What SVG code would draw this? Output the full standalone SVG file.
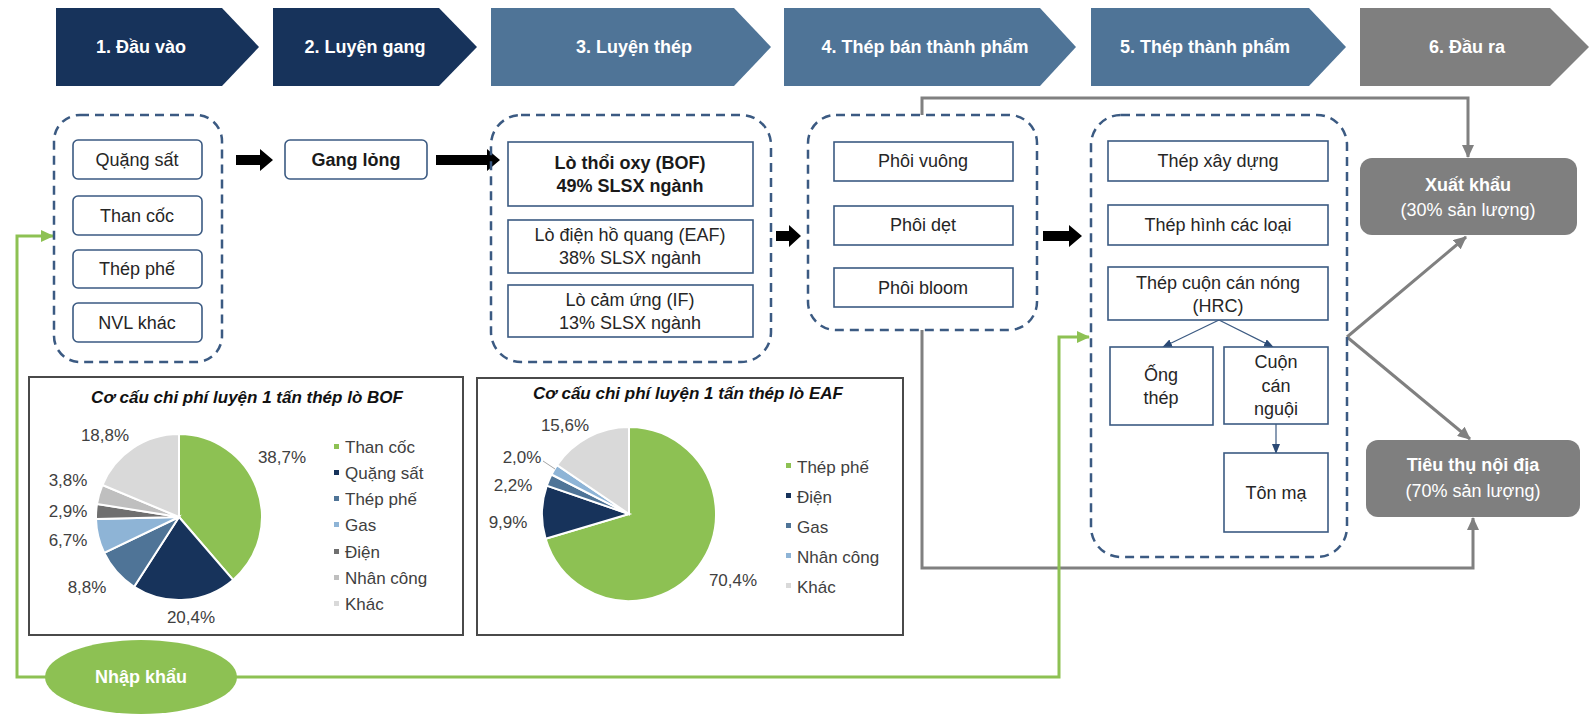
<svg xmlns="http://www.w3.org/2000/svg" width="1590" height="714" viewBox="0 0 1590 714">
<defs>
<style>
text{font-family:"Liberation Sans",Arial,sans-serif;}
.hdr{font-size:18px;font-weight:bold;fill:#fff;text-anchor:middle;}
.navy{fill:#17335B;}
.steel{fill:#4F7497;}
.grayf{fill:#7F7F7F;}
.box{fill:#fff;stroke:#3B5A82;stroke-width:1.6;}
.dash{fill:none;stroke:#3B5A82;stroke-width:2.5;stroke-dasharray:9 6;}
.t{font-size:18px;fill:#262626;text-anchor:middle;}
.tb{font-size:18px;font-weight:bold;fill:#1a1a1a;text-anchor:middle;}
.w{font-size:18px;fill:#fff;text-anchor:middle;}
.wb{font-size:18px;font-weight:bold;fill:#fff;text-anchor:middle;}
.chart{fill:#fff;stroke:#4a4a4a;stroke-width:2;}
.ct{font-size:17px;font-weight:bold;font-style:italic;fill:#111;text-anchor:middle;}
.pl{font-size:17px;fill:#404040;text-anchor:middle;}
.lg{font-size:17px;fill:#404040;}
.gray{fill:none;stroke:#808080;stroke-width:3;}
.green{fill:none;stroke:#8DC153;stroke-width:3;}
.thin{fill:none;stroke:#3B5A82;stroke-width:1.2;}
.slice{stroke:#fff;stroke-width:2;}
.blk{fill:#000;}
</style>
<marker id="ag" markerUnits="userSpaceOnUse" markerWidth="14" markerHeight="12" refX="12" refY="6" orient="auto"><path d="M0,0 L13,6 L0,12 Z" fill="#808080"/></marker>
<marker id="agr" markerUnits="userSpaceOnUse" markerWidth="14" markerHeight="12" refX="12" refY="6" orient="auto"><path d="M0,0 L13,6 L0,12 Z" fill="#8DC153"/></marker>
<marker id="an" markerUnits="userSpaceOnUse" markerWidth="10" markerHeight="8" refX="9" refY="4" orient="auto"><path d="M0,0 L10,4 L0,8 Z" fill="#2B4A75"/></marker>
</defs>
<rect width="1590" height="714" fill="#fff"/>

<g id="headers">
<g id="h1"><polygon class="navy" points="56,8 222,8 259,47 222,86 56,86"/><text class="hdr" x="141" y="53">1. Đầu vào</text></g>
<g id="h2"><polygon class="navy" points="273,8 439,8 477,47 439,86 273,86"/><text class="hdr" x="365" y="53">2. Luyện gang</text></g>
<g id="h3"><polygon class="steel" points="491,8 734,8 771,47 734,86 491,86"/><text class="hdr" x="634" y="53">3. Luyện thép</text></g>
<g id="h4"><polygon class="steel" points="784,8 1040,8 1076,47 1040,86 784,86"/><text class="hdr" x="925" y="53">4. Thép bán thành phẩm</text></g>
<g id="h5"><polygon class="steel" points="1091,8 1309,8 1346,47 1309,86 1091,86"/><text class="hdr" x="1205" y="53">5. Thép thành phẩm</text></g>
<g id="h6"><polygon class="grayf" points="1360,8 1550,8 1589,47 1550,86 1360,86"/><text class="hdr" x="1467" y="53">6. Đầu ra</text></g>
</g>

<g id="connectors">
<polygon class="blk" points="236,155 260,155 260,149 273,160 260,171 260,165 236,165"/>
<polygon class="blk" points="436,155 487,155 487,149 500,160 487,171 487,165 436,165"/>
<polygon class="blk" points="776,231 789,231 789,225 801,236 789,247 789,241 776,241"/>
<polygon class="blk" points="1043,231 1069,231 1069,225 1082,236 1069,247 1069,241 1043,241"/>
<polyline class="gray" points="922,115 922,98 1468,98 1468,157" marker-end="url(#ag)"/>
<polyline class="gray" points="922,330 922,568 1473,568 1473,518" marker-end="url(#ag)"/>
<line class="gray" x1="1347" y1="337" x2="1466" y2="237" marker-end="url(#ag)"/>
<line class="gray" x1="1347" y1="337" x2="1470" y2="439" marker-end="url(#ag)"/>
<polyline class="green" points="46,677 17,677 17,236 53,236" marker-end="url(#agr)"/>
<polyline class="green" points="236,677 1059,677 1059,337 1089,337" marker-end="url(#agr)"/>
<line class="thin" x1="1219" y1="320" x2="1163" y2="347" marker-end="url(#an)"/>
<line class="thin" x1="1219" y1="320" x2="1273" y2="347" marker-end="url(#an)"/>
<line class="thin" x1="1276" y1="424" x2="1276" y2="453" marker-end="url(#an)"/>
</g>

<g id="g1">
<rect class="dash" x="54" y="115" width="168" height="247" rx="26"/>
<rect class="box" x="73" y="140" width="129" height="39" rx="5"/><text class="t" x="137" y="166">Quặng sất</text>
<rect class="box" x="73" y="196" width="129" height="39" rx="5"/><text class="t" x="137" y="222">Than cốc</text>
<rect class="box" x="73" y="250" width="129" height="38" rx="5"/><text class="t" x="137" y="275">Thép phế</text>
<rect class="box" x="73" y="303" width="129" height="39" rx="5"/><text class="t" x="137" y="329">NVL khác</text>
</g>

<g id="g2">
<rect class="box" x="285" y="140" width="142" height="39" rx="5"/><text class="tb" x="356" y="166">Gang lỏng</text>
</g>

<g id="g3">
<rect class="dash" x="491" y="115" width="280" height="247" rx="30"/>
<rect class="box" x="508" y="142" width="245" height="64"/><text class="tb" x="630" y="169">Lò thổi oxy (BOF)</text><text class="tb" x="630" y="192">49% SLSX ngành</text>
<rect class="box" x="508" y="220" width="245" height="53"/><text class="t" x="630" y="241">Lò điện hồ quang (EAF)</text><text class="t" x="630" y="264">38% SLSX ngành</text>
<rect class="box" x="508" y="285" width="245" height="52"/><text class="t" x="630" y="306">Lò cảm ứng (IF)</text><text class="t" x="630" y="329">13% SLSX ngành</text>
</g>

<g id="g4">
<rect class="dash" x="808" y="115" width="229" height="215" rx="28"/>
<rect class="box" x="834" y="142" width="179" height="39"/><text class="t" x="923" y="167">Phôi vuông</text>
<rect class="box" x="834" y="206" width="179" height="39"/><text class="t" x="923" y="231">Phôi dẹt</text>
<rect class="box" x="834" y="268" width="179" height="39"/><text class="t" x="923" y="294">Phôi bloom</text>
</g>

<g id="g5">
<rect class="dash" x="1091" y="115" width="256" height="442" rx="30"/>
<rect class="box" x="1108" y="141" width="220" height="40"/><text class="t" x="1218" y="167">Thép xây dựng</text>
<rect class="box" x="1108" y="205" width="220" height="40"/><text class="t" x="1218" y="231">Thép hình các loại</text>
<rect class="box" x="1108" y="267" width="220" height="53"/><text class="t" x="1218" y="289">Thép cuộn cán nóng</text><text class="t" x="1218" y="312">(HRC)</text>
<rect class="box" x="1110" y="347" width="103" height="78"/><text class="t" x="1161" y="381">Ống</text><text class="t" x="1161" y="404">thép</text>
<rect class="box" x="1224" y="347" width="104" height="77"/><text class="t" x="1276" y="368">Cuộn</text><text class="t" x="1276" y="392">cán</text><text class="t" x="1276" y="415">nguội</text>
<rect class="box" x="1224" y="453" width="104" height="79"/><text class="t" x="1276" y="499">Tôn mạ</text>
</g>

<g id="out1">
<rect class="grayf" x="1360" y="158" width="217" height="77" rx="12"/>
<text class="wb" x="1468" y="191">Xuất khẩu</text><text class="w" x="1468" y="216">(30% sản lượng)</text>
</g>
<g id="out2">
<rect class="grayf" x="1366" y="440" width="214" height="77" rx="12"/>
<text class="wb" x="1473" y="471">Tiêu thụ nội địa</text><text class="w" x="1473" y="497">(70% sản lượng)</text>
</g>

<g id="import">
<ellipse cx="141" cy="677" rx="96" ry="37" fill="#8DC153"/>
<text class="wb" x="141" y="683">Nhập khẩu</text>
</g>

<g id="chartBOF">
<rect class="chart" x="29" y="377" width="434" height="258"/>
<text class="ct" x="247" y="403">Cơ cấu chi phí luyện 1 tấn thép lò BOF</text>
<path class="slice" fill="#8DC153" d="M179,517 L179,434 A83,83 0 0 1 233.1,579.9 Z"/>
<path class="slice" fill="#17335B" d="M179,517 L233.1,579.9 A83,83 0 0 1 134.1,586.8 Z"/>
<path class="slice" fill="#4F7497" d="M179,517 L134.1,586.8 A83,83 0 0 1 104.1,552.8 Z"/>
<path class="slice" fill="#8EB4D6" d="M179,517 L104.1,552.8 A83,83 0 0 1 96,519.1 Z"/>
<path class="slice" fill="#6F6F6F" d="M179,517 L96,519.1 A83,83 0 0 1 97,504 Z"/>
<path class="slice" fill="#BFBFBF" d="M179,517 L97,504 A83,83 0 0 1 102.4,485 Z"/>
<path class="slice" fill="#D9D9D9" d="M179,517 L102.4,485 A83,83 0 0 1 179,434 Z"/>
<text class="pl" x="282" y="463">38,7%</text>
<text class="pl" x="191" y="623">20,4%</text>
<text class="pl" x="87" y="593">8,8%</text>
<text class="pl" x="68" y="546">6,7%</text>
<text class="pl" x="68" y="517">2,9%</text>
<text class="pl" x="68" y="486">3,8%</text>
<text class="pl" x="105" y="441">18,8%</text>
<rect x="334" y="444" width="5" height="5" fill="#8DC153"/><text class="lg" x="345" y="453">Than cốc</text>
<rect x="334" y="470" width="5" height="5" fill="#17335B"/><text class="lg" x="345" y="479">Quặng sất</text>
<rect x="334" y="496" width="5" height="5" fill="#4F7497"/><text class="lg" x="345" y="505">Thép phế</text>
<rect x="334" y="522" width="5" height="5" fill="#8EB4D6"/><text class="lg" x="345" y="531">Gas</text>
<rect x="334" y="549" width="5" height="5" fill="#6F6F6F"/><text class="lg" x="345" y="558">Điện</text>
<rect x="334" y="575" width="5" height="5" fill="#BFBFBF"/><text class="lg" x="345" y="584">Nhân công</text>
<rect x="334" y="601" width="5" height="5" fill="#D9D9D9"/><text class="lg" x="345" y="610">Khác</text>
</g>

<g id="chartEAF">
<rect class="chart" x="477" y="378" width="426" height="257"/>
<text class="ct" x="688" y="399">Cơ cấu chi phí luyện 1 tấn thép lò EAF</text>
<path class="slice" fill="#8DC153" d="M629,514 L629,427 A87,87 0 1 1 545.6,538.8 Z"/>
<path class="slice" fill="#17335B" d="M629,514 L545.6,538.8 A87,87 0 0 1 546.8,485.6 Z"/>
<path class="slice" fill="#4F7497" d="M629,514 L546.8,485.6 A87,87 0 0 1 551.5,474.5 Z"/>
<path class="slice" fill="#8EB4D6" d="M629,514 L551.5,474.5 A87,87 0 0 1 557,465.1 Z"/>
<path class="slice" fill="#D9D9D9" d="M629,514 L557,465.1 A87,87 0 0 1 629,427 Z"/>
<line x1="543" y1="461" x2="555" y2="469" stroke="#A6A6A6" stroke-width="1"/>
<text class="pl" x="565" y="431">15,6%</text>
<text class="pl" x="522" y="463">2,0%</text>
<text class="pl" x="513" y="491">2,2%</text>
<text class="pl" x="508" y="528">9,9%</text>
<text class="pl" x="733" y="586">70,4%</text>
<rect x="786" y="463" width="5" height="5" fill="#8DC153"/><text class="lg" x="797" y="473">Thép phế</text>
<rect x="786" y="493" width="5" height="5" fill="#17335B"/><text class="lg" x="797" y="503">Điện</text>
<rect x="786" y="523" width="5" height="5" fill="#4F7497"/><text class="lg" x="797" y="533">Gas</text>
<rect x="786" y="553" width="5" height="5" fill="#8EB4D6"/><text class="lg" x="797" y="563">Nhân công</text>
<rect x="786" y="583" width="5" height="5" fill="#D9D9D9"/><text class="lg" x="797" y="593">Khác</text>
</g>
</svg>
